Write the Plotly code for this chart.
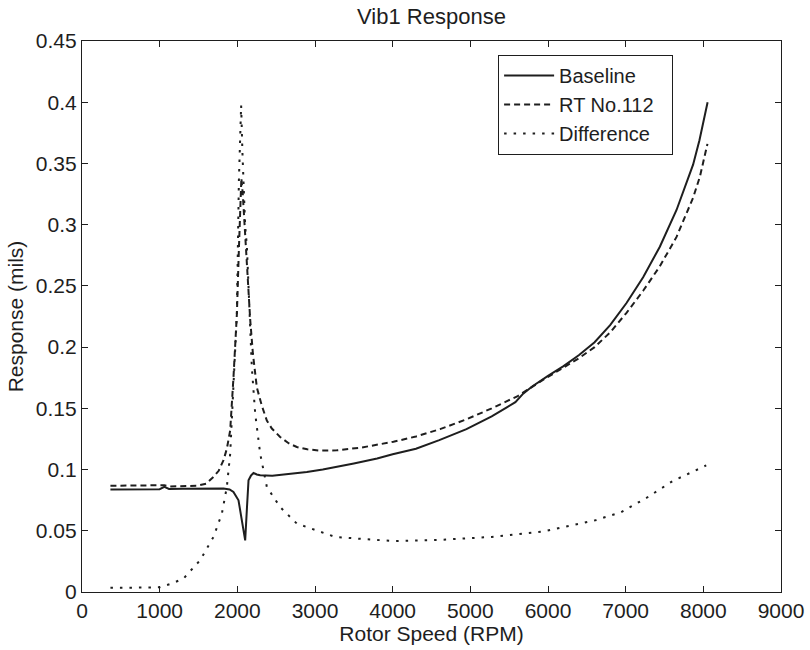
import plotly.graph_objects as go

# ---- data ----
baseline_rpm = [366, 600, 900, 1000, 1060, 1120, 1300, 1600, 1822, 1900, 1950, 2015, 2058, 2101,
                2125, 2144, 2175, 2208, 2250, 2294, 2450, 2637, 2895, 3100, 3281, 3500, 3800, 4000,
                4300, 4600, 4950, 5275, 5475, 5580, 5680, 5800, 6000, 6200, 6400, 6600, 6800, 7011,
                7225, 7440, 7655, 7868, 7950, 8028, 8055]
baseline_val = [0.0838, 0.0838, 0.0838, 0.0840, 0.0858, 0.0842, 0.0843, 0.0845, 0.0845, 0.0838, 0.0817,
                0.0749, 0.0586, 0.0422, 0.0700, 0.0912, 0.0950, 0.0972, 0.0960, 0.0953, 0.0950, 0.0961,
                0.0980, 0.1000, 0.1020, 0.1050, 0.1090, 0.1125, 0.1170, 0.1240, 0.1330, 0.1435, 0.1510,
                0.1550, 0.1620, 0.1680, 0.1765, 0.1845, 0.1935, 0.2040, 0.2180, 0.2360, 0.2570, 0.2820,
                0.3120, 0.3490, 0.3690, 0.3920, 0.4000]

rt_rpm = [366, 700, 1000, 1060, 1120, 1265, 1480, 1600, 1693, 1760, 1822, 1865, 1908, 1950, 1972, 1994,
          2020, 2040, 2052, 2070, 2100, 2130, 2166, 2200, 2251, 2316, 2380, 2444, 2551, 2660, 2766, 2900,
          3066, 3281, 3600, 4010, 4300, 4610, 4950, 5276, 5610, 5940, 6200, 6400, 6600, 6800, 7011, 7225,
          7440, 7655, 7868, 7955, 8053]
rt_val = [0.0868, 0.0868, 0.0866, 0.0872, 0.0862, 0.0862, 0.0868, 0.0885, 0.0940, 0.0990, 0.1076, 0.1170,
          0.1320, 0.1750, 0.2000, 0.2270, 0.2800, 0.3250, 0.3380, 0.3250, 0.2900, 0.2550, 0.2220, 0.1950,
          0.1670, 0.1520, 0.1400, 0.1335, 0.1266, 0.1215, 0.1184, 0.1165, 0.1155, 0.1157, 0.1180, 0.1227,
          0.1270, 0.1330, 0.1410, 0.1500, 0.1600, 0.1734, 0.1830, 0.1910, 0.2000, 0.2120, 0.2280, 0.2460,
          0.2660, 0.2900, 0.3220, 0.3390, 0.3660]

diff_rpm = [366, 700, 1000, 1150, 1307, 1522, 1693, 1801, 1865, 1908, 1930, 1950, 1975, 1994, 2020, 2035,
            2049, 2065, 2080, 2100, 2123, 2144, 2165, 2187, 2230, 2294, 2380, 2551, 2766, 3066, 3259, 3613,
            4012, 4610, 5276, 5941, 6607, 6940, 7272, 7605, 8037]
diff_val = [0.0034, 0.0034, 0.0038, 0.0068, 0.0110, 0.0260, 0.0450, 0.0640, 0.0858, 0.1130, 0.1400, 0.1670,
            0.2000, 0.2270, 0.3360, 0.3700, 0.3975, 0.3600, 0.3360, 0.3000, 0.2820, 0.2500, 0.2150, 0.1830,
            0.1457, 0.1130, 0.0858, 0.0694, 0.0559, 0.0490, 0.0450, 0.0433, 0.0416, 0.0426, 0.0450, 0.0494,
            0.0585, 0.0652, 0.0770, 0.0906, 0.1034]

x_ticks = [0, 1000, 2000, 3000, 4000, 5000, 6000, 7000, 8000, 9000]
x_ticktext = ["0", "1000", "2000", "3000", "4000", "5000", "6000", "7000", "8000", "9000"]
y_ticks = [0, 0.05, 0.1, 0.15, 0.2, 0.25, 0.3, 0.35, 0.4, 0.45]
y_ticktext = ["0", "0.05", "0.1", "0.15", "0.2", "0.25", "0.3", "0.35", "0.4", "0.45"]

INK = "#1e1e1e"
FONT = "Liberation Sans, Arial, Helvetica, sans-serif"

fig = go.Figure()
fig.add_trace(go.Scatter(x=baseline_rpm, y=baseline_val, mode="lines", name="Baseline",
                         line=dict(color=INK, width=2)))
fig.add_trace(go.Scatter(x=rt_rpm, y=rt_val, mode="lines", name="RT No.112",
                         line=dict(color=INK, width=2, dash="6px,4px")))
fig.add_trace(go.Scatter(x=diff_rpm, y=diff_val, mode="lines", name="Difference\u00a0\u00a0\u00a0",
                         line=dict(color=INK, width=2, dash="2.5px,7px")))

axis_common = dict(showline=True, linecolor=INK, linewidth=1.2, mirror="ticks", ticks="inside",
                   ticklen=6, tickcolor=INK, tickwidth=1, showgrid=False, zeroline=False,
                   tickfont=dict(family=FONT, size=21, color=INK))

fig.update_xaxes(range=[0, 9000], tickvals=x_ticks, ticktext=x_ticktext,
                 title=dict(text="Rotor Speed (RPM)", font=dict(family=FONT, size=21, color=INK), standoff=2),
                 **axis_common)
fig.update_yaxes(range=[0, 0.45], tickvals=y_ticks, ticktext=y_ticktext,
                 title=dict(text="Response (mils)", font=dict(family=FONT, size=21, color=INK), standoff=6),
                 **axis_common)

fig.update_layout(
    width=810, height=650,
    margin=dict(l=82, r=29, t=41, b=58, autoexpand=False),
    paper_bgcolor="white", plot_bgcolor="white",
    font=dict(family=FONT, size=21, color=INK),
    title=dict(text="Vib1 Response", xref="paper", x=0.5, xanchor="center", y=0.9755, yanchor="middle",
               font=dict(family=FONT, size=22, color=INK)),
    showlegend=True,
    legend=dict(x=0.595, y=0.975, xanchor="left", yanchor="top", bgcolor="white",
                bordercolor=INK, borderwidth=1.2, font=dict(family=FONT, size=20, color=INK),
                tracegroupgap=0, itemwidth=50),
)

# remove the default 8px page margin so the figure sits at the window's top-left corner
fig.write_html("out.html", config={"displayModeBar": False},
               post_script="document.body.style.margin='0';")
